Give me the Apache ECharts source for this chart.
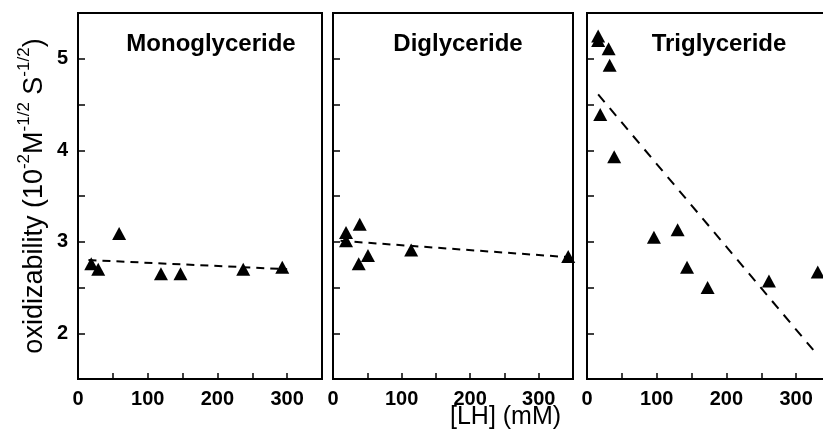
<!DOCTYPE html>
<html>
<head>
<meta charset="utf-8">
<script src="https://cdn.jsdelivr.net/npm/echarts@6/dist/echarts.min.js"></script>
<style>html,body{margin:0;padding:0;background:#fff}#c{width:823px;height:444px}</style>
</head>
<body>
<div id="c"></div>
<script>
const panelTitles = ['Monoglyceride', 'Diglyceride', 'Triglyceride'];
const xTickLabels = [0, 100, 200, 300];
const yTickLabels = [2, 3, 4, 5];

const monoX = [19, 29, 59, 119, 147, 237, 293];
const monoY = [2.76, 2.70, 3.09, 2.65, 2.65, 2.70, 2.72];
const diX = [19, 19, 39, 37.5, 51, 114, 343];
const diY = [3.10, 3.01, 3.19, 2.76, 2.85, 2.91, 2.84];
const triX = [16, 16, 31, 32.5, 19, 39, 96, 130, 143.5, 173, 261, 331];
const triY = [5.25, 5.20, 5.11, 4.93, 4.39, 3.93, 3.05, 3.13, 2.72, 2.50, 2.57, 2.67];

const monoFitX = [15, 300], monoFitY = [2.80, 2.70];
const diFitX = [11, 347], diFitY = [3.01, 2.83];
const triFitX = [16, 332], triFitY = [4.61, 1.75];

const FONT = 'Liberation Sans';
const zip = (a, b) => a.map((v, i) => [v, b[i]]);

const grids = [
  {left: 78, width: 244, top: 13, height: 366},
  {left: 333, width: 240, top: 13, height: 366},
  {left: 587, width: 244, top: 13, height: 366}
].map(g => Object.assign(g, {show: true, borderColor: '#000', borderWidth: 2, backgroundColor: 'transparent', containLabel: false, outerBoundsMode: 'none'}));

const xAxes = grids.map((g, i) => ({
  type: 'value', gridIndex: i, min: 0, max: 350, interval: 50,
  axisLine: {show: true, onZero: false, lineStyle: {color: '#000', width: 2}},
  axisTick: {show: true, inside: true, length: 6, lineStyle: {color: '#000', width: 1.5}},
  splitLine: {show: false},
  axisLabel: {
    color: '#000', fontFamily: FONT, fontSize: 20, fontWeight: 'bold', margin: 10,
    showMaxLabel: true,
    formatter: v => xTickLabels.indexOf(v) >= 0 ? String(v) : ''
  }
}));

const yAxes = grids.map((g, i) => ({
  type: 'value', gridIndex: i, min: 1.5, max: 5.5, interval: 0.5,
  axisLine: {show: true, onZero: false, lineStyle: {color: '#000', width: 2}},
  axisTick: {show: true, inside: true, length: 7, lineStyle: {color: '#000', width: 1.5}},
  splitLine: {show: false},
  axisLabel: {
    show: i === 0,
    color: '#000', fontFamily: FONT, fontSize: 20, fontWeight: 'bold', margin: 10,
    formatter: v => yTickLabels.indexOf(v) >= 0 ? String(v) : ''
  },
  name: i === 0 ? '{n|oxidizability (10}{s|-2}{n|M}{s|-1/2}{n| S}{s|-1/2}{n|)}' : '',
  nameLocation: 'middle',
  nameRotate: 90,
  nameGap: 30,
  nameTextStyle: {
    rich: {
      n: {fontFamily: FONT, fontSize: 27, color: '#000', lineHeight: 32, verticalAlign: 'bottom'},
      s: {fontFamily: FONT, fontSize: 17, color: '#000', lineHeight: 17, verticalAlign: 'top'}
    }
  }
}));

const titleCenters = [206, 453, 714];
const titles = panelTitles.map((t, i) => ({
  text: t, left: titleCenters[i], top: 27, textAlign: 'center',
  textStyle: {fontFamily: FONT, fontSize: 24, fontWeight: 'bold', color: '#000'}
}));

const scatterStyle = {
  type: 'scatter', symbol: 'triangle', symbolSize: [14, 13],
  itemStyle: {color: '#000', opacity: 1}, z: 3
};
const lineStyle = (type) => ({
  type: 'line', showSymbol: false, symbol: 'none',
  lineStyle: {color: '#000', width: 2, type: type}, z: 2
});

const series = [
  Object.assign({xAxisIndex: 0, yAxisIndex: 0, data: zip(monoX, monoY)}, scatterStyle),
  Object.assign({xAxisIndex: 1, yAxisIndex: 1, data: zip(diX, diY)}, scatterStyle),
  Object.assign({xAxisIndex: 2, yAxisIndex: 2, data: zip(triX, triY)}, scatterStyle),
  Object.assign({xAxisIndex: 0, yAxisIndex: 0, data: zip(monoFitX, monoFitY)}, lineStyle([8, 6])),
  Object.assign({xAxisIndex: 1, yAxisIndex: 1, data: zip(diFitX, diFitY)}, lineStyle([8, 6])),
  Object.assign({xAxisIndex: 2, yAxisIndex: 2, data: zip(triFitX, triFitY)}, lineStyle([10, 8]))
];

const chart = echarts.init(document.getElementById('c'), null, {renderer: 'canvas'});
chart.setOption({
  animation: false,
  backgroundColor: '#fff',
  title: titles,
  grid: grids,
  xAxis: xAxes,
  yAxis: yAxes,
  series: series,
  graphic: [{
    type: 'text', left: 450, top: 405,
    style: {text: '[LH] (mM)', fontFamily: FONT, fontSize: 25, fill: '#000'}
  }]
});
</script>
</body>
</html>
